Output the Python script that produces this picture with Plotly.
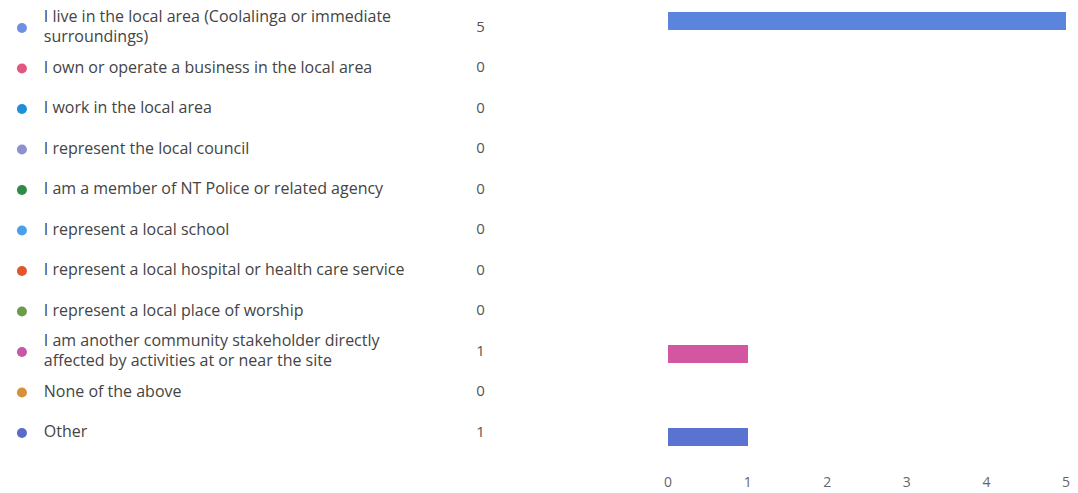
import plotly.graph_objects as go

categories = [
    "I live in the local area (Coolalinga or immediate<br>surroundings)",
    "I own or operate a business in the local area",
    "I work in the local area",
    "I represent the local council",
    "I am a member of NT Police or related agency",
    "I represent a local school",
    "I represent a local hospital or health care service",
    "I represent a local place of worship",
    "I am another community stakeholder directly<br>affected by activities at or near the site",
    "None of the above",
    "Other",
]
counts = [5, 0, 0, 0, 0, 0, 0, 0, 1, 0, 1]
dot_colors = ["#6f8fe2", "#e0577f", "#1f8fd8", "#8e90d0", "#2e8b45", "#4aa0ea",
              "#e2562e", "#6e9a4c", "#c957a8", "#d6903a", "#5a6bc8"]
bar_colors = ["#5b84dc", "#e0577f", "#1f8fd8", "#8e90d0", "#2e8b45", "#4aa0ea",
              "#e2562e", "#6e9a4c", "#d257a0", "#d6903a", "#5a72d0"]
x_ticks = [0, 1, 2, 3, 4, 5]

idx = list(range(len(categories)))
FONT = "Open Sans"

# page body has a default margin; figure is sized to fit the window
W, H = 1070, 485
PLOT_H = 450

fig = go.Figure()
fig.add_trace(go.Bar(
    x=counts, y=idx, orientation="h", width=0.42,
    marker=dict(color=bar_colors, line=dict(width=0)),
    xaxis="x", yaxis="y", hoverinfo="skip", showlegend=False,
))
fig.add_trace(go.Scatter(
    x=[10] * len(idx), y=idx, mode="markers",
    marker=dict(size=10, color=dot_colors),
    xaxis="x2", yaxis="y2", hoverinfo="skip", showlegend=False,
    cliponaxis=False,
))
fig.add_trace(go.Scatter(
    x=[32] * len(idx), y=idx, mode="text", text=categories,
    textposition="middle right",
    textfont=dict(family=FONT, size=16, color="#444444"),
    xaxis="x2", yaxis="y2", hoverinfo="skip", showlegend=False,
    cliponaxis=False,
))
fig.add_trace(go.Scatter(
    x=[472] * len(idx), y=idx, mode="text", text=[str(c) for c in counts],
    textposition="middle center",
    textfont=dict(family=FONT, size=15, color="#555555"),
    xaxis="x2", yaxis="y2", hoverinfo="skip", showlegend=False,
    cliponaxis=False,
))

fig.update_layout(
    width=W, height=H,
    margin=dict(l=0, r=0, t=0, b=H - PLOT_H),
    paper_bgcolor="white", plot_bgcolor="white",
    bargap=0,
    xaxis=dict(domain=[661 / W, 1062 / W], range=[0, 5], tickvals=x_ticks,
               showgrid=False, zeroline=False, showline=False,
               ticks="outside", ticklen=11, tickcolor="rgba(0,0,0,0)",
               ticklabeloverflow="allow",
               tickfont=dict(family=FONT, size=14, color="#666666")),
    yaxis=dict(range=[(PLOT_H - 13) / 41.6, -13 / 41.6], showgrid=False,
               zeroline=False, showticklabels=False, showline=False),
    xaxis2=dict(domain=[0, 632 / W], range=[0, 632], visible=False),
    yaxis2=dict(range=[(PLOT_H - 20) / 40.5, -20 / 40.5], anchor="x2",
                overlaying="y", visible=False),
)

fig.write_html("out.html")
